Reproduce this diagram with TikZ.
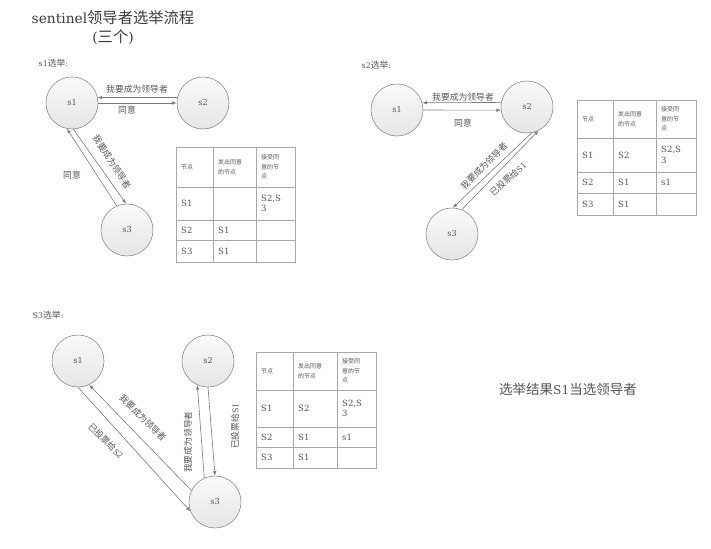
\documentclass[tikz,border=0pt]{standalone}
\usepackage{fontspec}
\setmainfont[Scale=0.9]{DejaVu Serif}
\newfontfamily\cjk{Noto Sans CJK SC}
\usetikzlibrary{arrows.meta}

\definecolor{ink}{HTML}{555555}
\definecolor{dark}{HTML}{3A3A3A}
\definecolor{rim}{HTML}{8C8C8C}
\definecolor{rule}{HTML}{A8A8A8}
\definecolor{wire}{HTML}{7A7A7A}

\newcommand{\zh}[1]{{\cjk #1}}

\tikzstyle{sentinel}=[circle,draw=rim,line width=0.6pt,top color=black!2,bottom color=black!10,minimum size=52pt,inner sep=0pt,text=ink,font=\fontsize{9}{10}\selectfont]
\tikzstyle{vote}=[draw=wire,line width=0.6pt,-{Latex[length=4.5pt,width=3.5pt]}]
\tikzstyle{lbl}=[text=ink,inner sep=0.5pt,font=\fontsize{8.8}{10}\selectfont]
\tikzstyle{grid}=[draw=rule,line width=0.6pt]
\tikzstyle{cell}=[anchor=west,align=left,text=ink,inner sep=0pt,font=\fontsize{9.5}{10.5}\selectfont]
\tikzstyle{hdr}=[anchor=west,align=left,text=ink,inner sep=0pt,font=\fontsize{6}{9.5}\selectfont\cjk]

\begin{document}
\begin{tikzpicture}[x=1pt,y=-1pt]

   \useasboundingbox (0,0) rectangle (711,548);

   % Title

   \node[text=dark,font=\fontsize{15.3}{17}\selectfont] (title) at (113,18) {sentinel\zh{领导者选举流程}};
   \node[text=dark,font=\fontsize{15.3}{17}\selectfont] (count) at (113,37) {(\zh{三个})};

   % s1 election

   \node[lbl,anchor=west] (s1elect) at (38,63) {s1\zh{选举}:};

   \node[sentinel] (a1) at (72,103) {s1};
   \node[sentinel] (a2) at (203,103) {s2};
   \node[sentinel] (a3) at (127,230) {s3};

   \draw[vote] (a2.168) -- (a1.12);
   \draw[vote] (a1.0) -- (a2.180);
   \draw[vote] (a1.-87) -- (a3.92);
   \draw[vote] (a3.113) -- (a1.-101);

   \node[lbl] (a12) at (137,89) {\zh{我要成为领导者}};
   \node[lbl] (a21) at (127,110) {\zh{同意}};
   \node[lbl,rotate=-57] (a13) at (112,162) {\zh{我要成为领导者}};
   \node[lbl] (a31) at (72,175) {\zh{同意}};

   \draw[grid] (176,147) rectangle (295,262);
   \foreach \x in {213,256} \draw[grid] (\x,147) -- (\x,262);
   \foreach \y in {187,220,240} \draw[grid] (176,\y) -- (295,\y);

   \node[hdr] (t1h1) at (181,167) {节点};
   \node[hdr] (t1h2) at (218,167) {发出同意\\的节点};
   \node[hdr] (t1h3) at (261,167) {接受同\\意的节\\点};
   \node[cell] (t1a1) at (181,203.5) {S1};
   \node[cell] (t1a3) at (261,203.5) {S2,S\\3};
   \node[cell] (t1b1) at (181,230) {S2};
   \node[cell] (t1b2) at (218,230) {S1};
   \node[cell] (t1c1) at (181,251) {S3};
   \node[cell] (t1c2) at (218,251) {S1};

   % s2 election

   \node[lbl,anchor=west] (s2elect) at (361,65) {s2\zh{选举}:};

   \node[sentinel] (b1) at (397,110) {s1};
   \node[sentinel] (b2) at (527,107) {s2};
   \node[sentinel] (b3) at (452,234) {s3};

   \draw[vote] (b2.170) -- (b1.16);
   \draw[vote] (b1.0) -- (b2.187);
   \draw[vote] (b2.-80) -- (b3.88);
   \draw[vote] (b3.68) -- (b2.-64);

   \node[lbl] (b12) at (463,97) {\zh{我要成为领导者}};
   \node[lbl] (b21) at (463,123) {\zh{同意}};
   \node[lbl,rotate=45] (b23) at (484,166) {\zh{我要成为领导者}};
   \node[lbl,rotate=42] (b32) at (508,179) {\zh{已投票给}S1};

   \draw[grid] (577,100) rectangle (696,215);
   \foreach \x in {613,656} \draw[grid] (\x,100) -- (\x,215);
   \foreach \y in {138,172,193} \draw[grid] (577,\y) -- (696,\y);

   \node[hdr] (t2h1) at (582,119) {节点};
   \node[hdr] (t2h2) at (618,119) {发出同意\\的节点};
   \node[hdr] (t2h3) at (661,119) {接受同\\意的节\\点};
   \node[cell] (t2a1) at (582,155) {S1};
   \node[cell] (t2a2) at (618,155) {S2};
   \node[cell] (t2a3) at (661,155) {S2,S\\3};
   \node[cell] (t2b1) at (582,182.5) {S2};
   \node[cell] (t2b2) at (618,182.5) {S1};
   \node[cell] (t2b3) at (661,182.5) {s1};
   \node[cell] (t2c1) at (582,204) {S3};
   \node[cell] (t2c2) at (618,204) {S1};

   % S3 election

   \node[lbl,anchor=west] (s3elect) at (32,315) {S3\zh{选举}:};

   \node[sentinel] (c1) at (78,361) {s1};
   \node[sentinel] (c2) at (208,361) {s2};
   \node[sentinel] (c3) at (215,502) {s3};

   \draw[vote] (c3.154) -- (c1.-65);
   \draw[vote] (c1.-90) -- (c3.201);
   \draw[vote] (c3.114) -- (c2.-114);
   \draw[vote] (c2.-90) -- (c3.90);

   \node[lbl,rotate=-45] (c13) at (143,418) {\zh{我要成为领导者}};
   \node[lbl,rotate=-45] (c31) at (106,441) {\zh{已投票给}S2};
   \node[lbl,rotate=90] (c23) at (188,442) {\zh{我要成为领导者}};
   \node[lbl,rotate=90] (c32) at (235,426) {\zh{已投票给}S1};

   \draw[grid] (256,352) rectangle (376,468);
   \foreach \x in {293,337} \draw[grid] (\x,352) -- (\x,468);
   \foreach \y in {390,427,447} \draw[grid] (256,\y) -- (376,\y);

   \node[hdr] (t3h1) at (261,371) {节点};
   \node[hdr] (t3h2) at (298,371) {发出同意\\的节点};
   \node[hdr] (t3h3) at (342,371) {接受同\\意的节\\点};
   \node[cell] (t3a1) at (261,408.5) {S1};
   \node[cell] (t3a2) at (298,408.5) {S2};
   \node[cell] (t3a3) at (342,408.5) {S2,S\\3};
   \node[cell] (t3b1) at (261,437) {S2};
   \node[cell] (t3b2) at (298,437) {S1};
   \node[cell] (t3b3) at (342,437) {s1};
   \node[cell] (t3c1) at (261,457.5) {S3};
   \node[cell] (t3c2) at (298,457.5) {S1};

   % Result

   \node[text=ink,font=\fontsize{13.5}{15}\selectfont] (result) at (568,389) {\zh{选举结果}S1\zh{当选领导者}};

\end{tikzpicture}
\end{document}
